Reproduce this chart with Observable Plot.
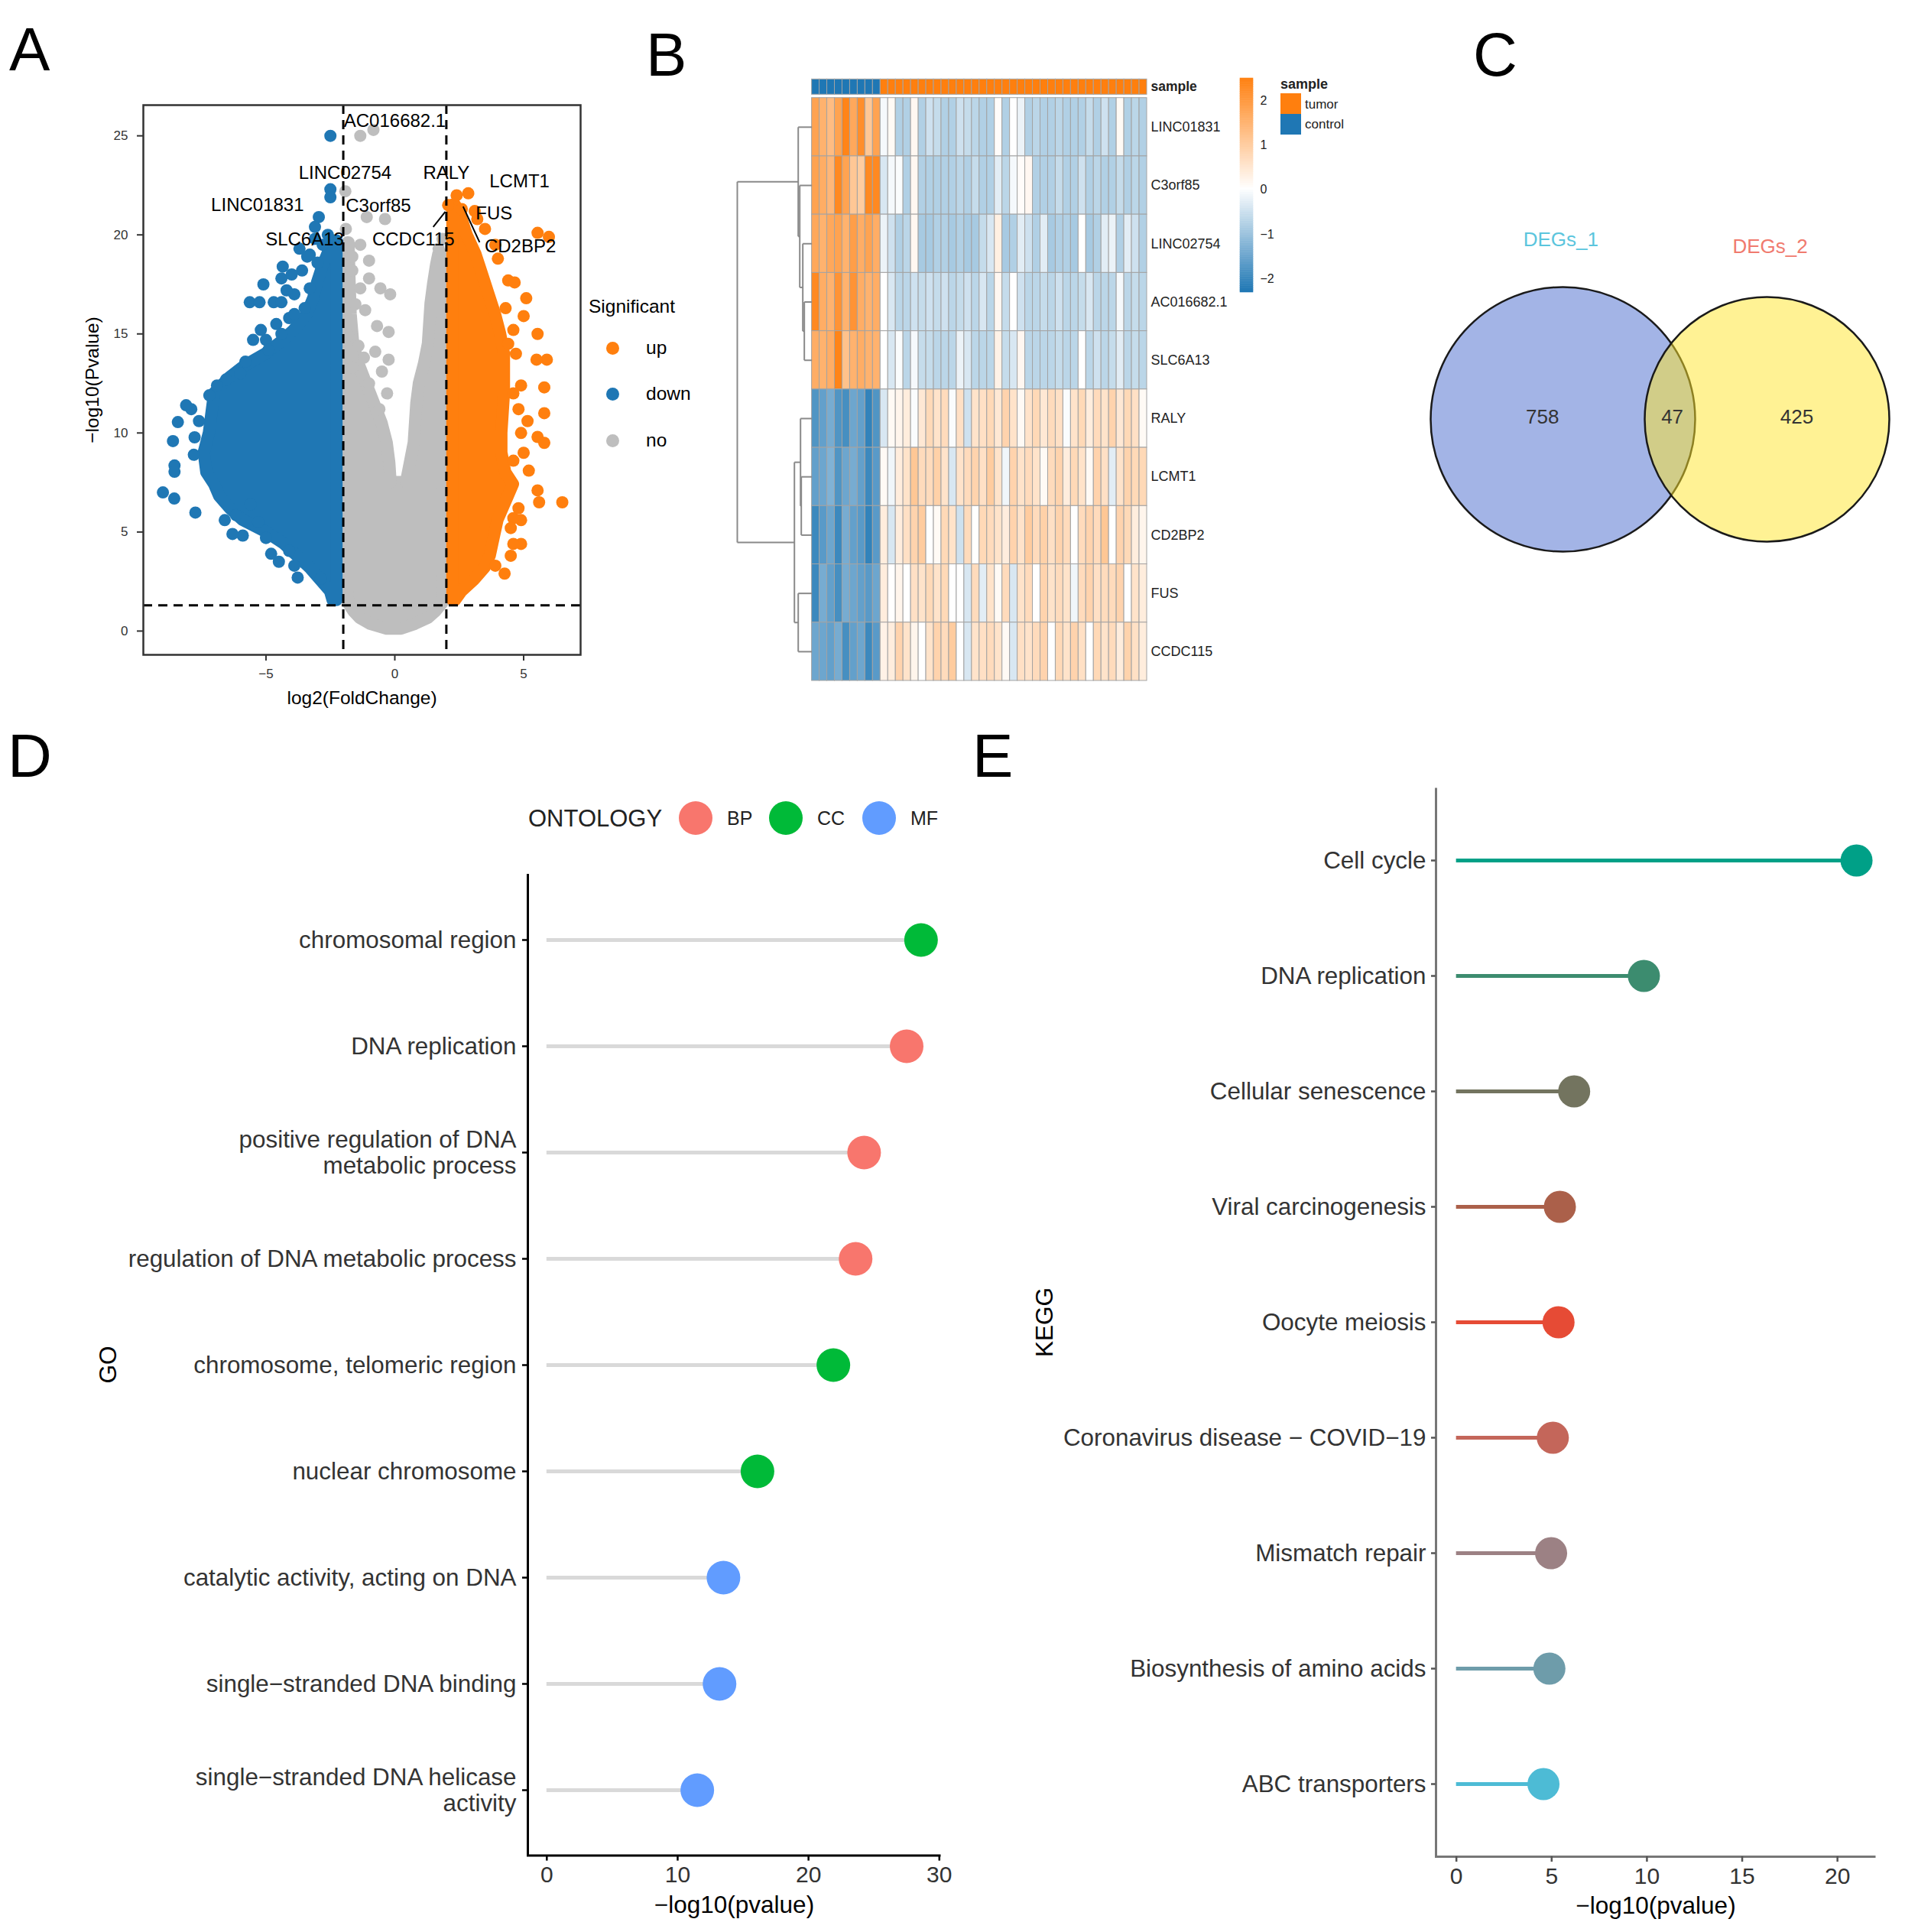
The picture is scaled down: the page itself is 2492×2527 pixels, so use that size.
<!DOCTYPE html>
<html><head><meta charset="utf-8">
<script src="https://cdn.jsdelivr.net/npm/d3@7"></script>
<script src="https://cdn.jsdelivr.net/npm/@observablehq/plot@0.6"></script>
<style>
html,body{margin:0;padding:0;background:#fff;}
#root{position:relative;width:2492px;height:2527px;overflow:hidden;background:#fff;}
</style></head><body><div id="root"></div>
<script>
// ===================== DATA =====================
// --- Panel A: volcano ---
const fcCut = 2, pCut = 1.301;
// dense cores of each group (y, left/right edge of dot centres)
const greyBaseY  = [0.1, 0.35, 0.65, 1.0, 1.4, 2.0, 3.0, 5.0, 7.5];
const greyBaseX1 = [-0.3, -0.95, -1.35, -1.6, -1.8, -1.82, -1.82, -1.82, -1.82];
const greyBaseX2 = [0.25, 0.8, 1.3, 1.6, 1.85, 1.88, 1.85, 1.85, 1.85];
const greyLeftY  = [7.5, 8.5, 9.5, 10.5, 11.5, 12.5, 13.5, 14.5, 16, 18, 19.6];
const greyLeftX2 = [-0.15, -0.2, -0.3, -0.5, -0.8, -1.1, -1.4, -1.6, -1.7, -1.75, -1.78];
const greyRightY  = [7.5, 8.5, 9.5, 10.5, 11.5, 12.5, 13.5, 14.5, 15.5, 16.5, 17.5, 18.5, 19.0];
const greyRightX1 = [0.45, 0.6, 0.75, 0.8, 0.85, 0.95, 1.15, 1.3, 1.35, 1.4, 1.5, 1.62, 1.7];
const downCoreY  = [1.55, 2.0, 2.6, 3.2, 3.8, 4.4, 5.0, 5.6, 6.2, 6.8, 7.4, 8.0, 9.0, 10.0, 11.0, 12.0, 12.8, 13.4, 14.0, 14.6, 15.2, 16.0, 16.8, 17.6, 18.4, 19.2, 19.7];
const downCoreX1 = [-2.4, -2.5, -2.9, -3.3, -3.8, -4.3, -5.0, -5.9, -6.4, -6.8, -7.0, -7.3, -7.4, -7.2, -7.1, -7.0, -6.4, -5.8, -5.0, -4.4, -3.9, -3.4, -3.15, -3.0, -2.8, -2.55, -2.35];
const upCoreY  = [1.55, 2.0, 2.6, 3.2, 3.8, 4.4, 5.0, 5.6, 6.2, 6.8, 7.4, 8.0, 9.0, 10.0, 11.0, 12.0, 13.0, 14.0, 15.0, 16.0, 17.0, 18.0, 19.0, 20.0, 21.0, 21.5];
const upCoreX2 = [2.35, 2.6, 3.1, 3.5, 3.7, 3.8, 3.9, 4.0, 4.2, 4.4, 4.6, 4.3, 4.15, 4.15, 4.2, 4.25, 4.25, 4.25, 4.1, 3.9, 3.65, 3.4, 3.15, 2.8, 2.55, 2.35];
// individual scattered genes [log2FC, -log10 p]
const downPoints = [[-2.5,25.0],[-2.5,22.3],[-2.5,21.9],[-2.95,20.9],[-3.1,20.4],[-2.6,20.0],[-4.35,18.4],[-4.4,17.8],[-5.1,17.5],[-5.63,16.6],[-5.25,16.6],[-4.7,16.6],[-4.4,16.6],[-4.6,15.5],[-4.1,15.8],[-5.5,14.7],[-5.0,14.7],[-6.55,12.7],[-6.0,13.0],[-7.2,11.9],[-8.42,10.55],[-8.61,9.59],[-7.77,9.78],[-8.55,8.36],[-8.55,8.04],[-9.0,7.0],[-8.56,6.69],[-7.74,5.98],[-7.6,10.6],[-6.6,5.6],[-6.16,5.85],[-5.9,4.82],[-5.0,4.7],[-4.1,4.05],[-3.77,2.7],[-2.87,2.64],[-5.6,6.4],[-7.9,11.2],[-5.3,5.5],[-4.8,3.9],[-3.9,3.3],[-6.9,12.4],[-5.8,13.6],[-5.2,15.2],[-3.9,17.0],[-3.3,19.0],[-3.6,18.2],[-4.0,18.0],[-3.7,19.3],[-7.8,8.9],[-8.1,11.4],[-6.3,4.9],[-4.5,3.5],[-3.5,16.3],[-3.9,16.0],[-3.3,17.3],[-3.0,18.6],[-3.4,18.9],[-2.8,19.5],[-3.1,19.8],[-4.2,17.2],[-4.9,14.2],[-4.4,15.0]];
const noPoints = [[-1.34,25.0],[-0.83,25.3],[-1.92,22.2],[-1.09,20.9],[-0.38,20.8],[-1.34,19.5],[-1.9,20.3],[-1.65,18.9],[-1.0,18.7],[-1.65,18.2],[-1.0,17.8],[-1.34,17.3],[-0.56,17.3],[-0.18,17.0],[-1.53,16.5],[-1.15,16.2],[-0.69,15.4],[-0.24,15.1],[-1.8,14.9],[-1.41,14.4],[-0.76,14.1],[-0.24,13.7],[-1.65,13.3],[-0.5,13.1],[-0.3,12.0],[-1.0,12.5],[-0.6,11.2],[-1.2,13.8],[1.7,19.3],[1.85,19.8]];
const upPoints = [[2.07,21.5],[2.4,22.0],[2.85,22.1],[2.6,21.3],[3.1,21.2],[5.54,20.1],[5.98,19.9],[4.0,18.8],[4.4,17.7],[4.65,17.6],[5.1,16.8],[5.0,15.9],[5.54,15.0],[5.9,13.7],[5.5,13.7],[5.8,12.3],[4.9,12.4],[5.8,11.0],[5.15,10.6],[5.54,9.8],[5.8,9.5],[5.2,8.1],[5.54,7.1],[5.6,6.5],[6.5,6.5],[4.9,5.6],[4.6,5.7],[4.9,4.4],[4.6,4.4],[4.5,3.8],[4.26,2.9],[4.4,14.5],[4.7,14.0],[4.6,12.0],[4.8,11.2],[5.0,9.0],[4.6,8.6],[4.8,6.2],[4.5,5.2],[3.9,19.5],[3.5,20.3],[3.2,20.8],[4.3,16.3],[4.6,15.2],[4.9,10.0],[3.9,3.3]];
const labelGenes = ["AC016682.1","LINC02754","LINC01831","C3orf85","SLC6A13","CCDC115","RALY","LCMT1","FUS","CD2BP2"];
const labelFC    = [0.0, -1.93, -5.33, -0.64, -3.5, 0.72, 2.0, 4.84, 3.85, 4.87];
const labelP     = [25.74, 23.13, 21.49, 21.45, 19.78, 19.78, 23.13, 22.7, 21.07, 19.43];
const repelSegments = [[1.49,20.4,1.96,21.17],[2.65,21.43,3.29,19.63]];

// --- Panel B: heatmap ---
const heatGenes = ["LINC01831","C3orf85","LINC02754","AC016682.1","SLC6A13","RALY","LCMT1","CD2BP2","FUS","CCDC115"];
const nControl = 9, nTumor = 35;
const controlValues = [
  [1.8,1.5,1.3,1.8,2.4,1.7,2.2,1.1,1.8],
  [1.8,1.6,1.4,2.3,1.8,1.1,1.0,2.3,2.3],
  [1.7,1.5,1.7,1.8,1.5,1.9,1.6,1.8,1.6],
  [2.3,1.6,1.5,2.1,1.5,2.1,1.6,1.5,1.6],
  [1.6,1.5,1.6,2.4,1.2,1.5,1.6,1.5,1.5],
  [-1.8,-1.6,-1.4,-1.8,-1.9,-1.5,-1.6,-2.1,-1.8],
  [-1.6,-1.5,-1.3,-1.8,-1.5,-1.4,-1.6,-2.0,-1.7],
  [-2.0,-1.7,-1.5,-2.0,-1.4,-1.6,-1.7,-2.1,-1.7],
  [-2.0,-1.4,-1.6,-1.9,-1.4,-1.5,-1.6,-1.7,-1.5],
  [-1.5,-1.5,-1.6,-1.4,-1.9,-1.6,-1.5,-2.0,-1.7]
];
const tumorValues = [
  [-0.1,0.1,-0.8,-0.8,0.15,-0.8,-0.5, -0.6,-0.8,-0.8,-0.5,-0.6,-0.7,-0.8, -0.8,0.05,-0.8,0.0,-0.2,-0.8,-0.7, -0.8,-0.8,-0.7,-0.8,-0.8,-0.8,-0.6, -0.8,-0.5,-0.8,0.1,-0.8,-0.7,-0.8],
  [-0.4,-0.1,-0.05,-0.8,0.15,-0.8,-0.8, -0.8,-0.8,-0.8,-0.7,-0.8,-0.6,-0.8, -0.8,-0.3,-0.7,-0.1,0.05,0.15,-0.8, -0.8,-0.8,-0.6,-0.8,-0.8,-0.5,-0.8, -0.7,-0.8,-0.8,-0.6,-0.8,-0.7,-0.8],
  [-0.2,-0.5,-0.8,-0.7,0.15,-0.9,-0.9, -0.8,-0.8,-0.9,-0.8,-0.9,-0.9,-0.6, -0.4,0.3,-0.9,-0.8,-0.3,-0.5,-0.8, -0.3,-0.9,-0.8,-0.8,-0.9,0.0,-0.9, -0.8,-0.3,-0.2,-0.8,-0.3,-0.5,-0.8],
  [0.0,-0.4,-0.7,-0.7,-0.5,-0.6,-0.5, -0.6,-0.5,-0.7,-0.6,-0.5,-0.7,-0.4, -0.7,0.15,-0.6,0.0,-0.5,-0.7,-0.7, -0.6,-0.7,-0.5,-0.7,-0.7,-0.6,-0.4, -0.7,-0.7,-0.7,-0.1,-0.7,-0.6,-0.7],
  [0.0,-0.4,-0.05,-0.7,-0.1,-0.6,-0.6, -0.7,-0.7,-0.7,-0.2,-0.4,-0.7,-0.7, -0.7,0.25,-0.6,-0.4,0.15,-0.7,-0.7, -0.7,-0.7,-0.6,-0.7,-0.7,0.0,-0.7, -0.5,-0.7,-0.6,-0.3,-0.7,-0.6,-0.7],
  [-0.4,0.1,0.2,0.35,-0.05,0.45,0.75, 0.55,0.7,-0.05,0.6,-0.5,0.55,0.6, 0.75,0.45,0.85,0.55,0.1,0.55,0.75, 0.45,0.7,0.6,-0.05,0.55,0.75,0.35, 0.7,0.55,0.85,0.45,0.75,0.6,0.1],
  [0.1,-0.15,0.35,0.55,1.1,0.7,0.7, 0.9,0.55,-0.4,0.55,0.7,0.85,0.6, 1.0,0.55,-0.15,0.85,0.55,0.7,0.55, 0.1,0.7,0.85,0.35,0.75,0.55,0.1, 0.85,0.6,-0.3,0.55,0.85,0.75,0.75],
  [0.35,-0.4,0.35,0.6,0.85,1.0,0.0, 0.1,0.75,0.55,-0.5,0.7,0.0,0.75, 0.7,0.55,0.35,0.85,0.55,1.0,0.7, 0.9,0.6,0.85,0.7,0.0,0.7,0.85, 0.7,1.1,0.0,0.85,0.75,0.35,0.2],
  [0.35,0.0,0.2,0.0,0.6,0.55,0.75, 0.55,0.75,0.0,0.0,-0.4,0.7,-0.3, 0.55,0.1,0.7,-0.4,0.55,0.7,0.0, 0.85,0.55,0.7,0.55,-0.15,0.7,0.85, 0.6,0.7,0.7,0.85,0.0,0.55,0.35],
  [0.25,0.35,0.85,0.55,0.2,0.0,0.55, 0.85,0.7,1.0,0.0,-0.4,0.55,0.6, 0.7,0.55,0.1,-0.4,0.6,0.55,0.7, 0.85,0.0,0.75,0.55,0.85,0.6,0.0, 0.75,0.55,0.7,0.35,0.85,0.6,0.35]
];
// row dendrogram (hclust-style merges; negative = leaf row)
const dendroMerges  = [[-4,-5],[-3,1],[-2,2],[-1,3],[-7,-8],[-6,5],[-9,-10],[6,7],[4,8]];
const dendroHeights = [1.0, 1.2, 1.6, 1.8, 1.4, 1.5, 1.8, 2.3, 9.8];
const heatLegendTicks = [-2,-1,0,1,2];

// --- Panel C: Venn ---
const vennSets = ["DEGs_1","DEGs_2"];
const vennCounts = [758, 47, 425];

// --- Panel D: GO ---
const goTerms = ["chromosomal region","DNA replication","positive regulation of DNA metabolic process","regulation of DNA metabolic process","chromosome, telomeric region","nuclear chromosome","catalytic activity, acting on DNA","single\u2212stranded DNA binding","single\u2212stranded DNA helicase activity"];
const goValues = [28.6, 27.5, 24.25, 23.6, 21.9, 16.1, 13.5, 13.2, 11.5];
const goOntology = ["CC","BP","BP","BP","CC","CC","MF","MF","MF"];
const ontologies = ["BP","CC","MF"];
const ontologyColors = ["#F8766D","#00BA38","#619CFF"];

// --- Panel E: KEGG ---
const keggTerms = ["Cell cycle","DNA replication","Cellular senescence","Viral carcinogenesis","Oocyte meiosis","Coronavirus disease \u2212 COVID\u221219","Mismatch repair","Biosynthesis of amino acids","ABC transporters"];
const keggValues = [21.0, 9.84, 6.18, 5.43, 5.36, 5.06, 4.97, 4.88, 4.57];
const keggColors = ["#00A087","#3C8C6F","#73745F","#AB604A","#E64B35","#C4665A","#9C8184","#6E9CAA","#4DBBD5"];

// ===================== HELPERS =====================
const FONT = '"Liberation Sans", Arial, Helvetica, sans-serif';
const root = document.getElementById("root");
function mount(svg, left, top, w, h) {
  const wrap = document.createElement("div");
  Object.assign(wrap.style, {position:"absolute", left:left+"px", top:top+"px", width:w+"px", height:h+"px"});
  svg.style.maxWidth = "none";
  svg.style.overflow = "visible";
  wrap.appendChild(svg);
  root.appendChild(wrap);
}
function label(str, x, y, o = {}) {
  const d = document.createElement("div");
  d.textContent = str;
  const tx = o.anchor === "middle" ? "-50%" : o.anchor === "end" ? "-100%" : "0";
  Object.assign(d.style, {position:"absolute", left:x+"px", top:y+"px", fontSize:(o.size||22)+"px", lineHeight:"1",
    whiteSpace:"pre", color:o.color||"#000", fontWeight:o.weight||"normal", fontFamily:FONT,
    transform:`translate(${tx},-50%)`});
  root.appendChild(d);
}
function swatch(x, y, w, h, color, round) {
  const d = document.createElement("div");
  Object.assign(d.style, {position:"absolute", left:(x - (round ? w/2 : 0))+"px", top:(y - (round ? h/2 : 0))+"px",
    width:w+"px", height:h+"px", background:color, borderRadius: round ? "50%" : "0"});
  root.appendChild(d);
}
const baseStyle = (size) => ({fontFamily: FONT, fontSize: size + "px", color: "#222", background: "transparent"});

// ===================== PANEL A =====================
const GREY = "#BEBEBE", BLUE = "#1F77B4", ORANGE = "#FF7F0E";
const greyCore = [
  ...greyBaseY.map((y,i) => ({part:"base", y, x1:greyBaseX1[i], x2:greyBaseX2[i]})),
  ...greyLeftY.map((y,i) => ({part:"left", y, x1:-1.82, x2:greyLeftX2[i]})),
  ...greyRightY.map((y,i) => ({part:"right", y, x1:greyRightX1[i], x2:1.85}))
];
const downCore = downCoreY.map((y,i) => ({y, x1:downCoreX1[i], x2:-2.25}));
const upCore = upCoreY.map((y,i) => ({y, x1:2.25, x2:upCoreX2[i]}));
const toPts = arr => arr.map(([x,y]) => ({x,y}));
const geneLabels = labelGenes.map((g,i) => ({g, x:labelFC[i], y:labelP[i]}));
const segs = repelSegments.map(([x1,y1,x2,y2]) => ({x1,y1,x2,y2}));
const coreOpts = c => ({y:"y", x1:"x1", x2:"x2", fill:c, stroke:c, strokeWidth:16, strokeLinejoin:"round"});

const volcano = Plot.plot({
  width: 900, height: 960,
  marginLeft: 187, marginRight: 141, marginTop: 137, marginBottom: 104,
  x: {domain: [-9.76, 7.21]},
  y: {domain: [-1.2, 26.55]},
  style: {...baseStyle(17), color:"#333"},
  marks: [
    Plot.areaX(greyCore, {...coreOpts(GREY), z:"part"}),
    Plot.dot(toPts(noPoints), {x:"x", y:"y", r:8, fill:GREY}),
    Plot.areaX(downCore, coreOpts(BLUE)),
    Plot.dot(toPts(downPoints), {x:"x", y:"y", r:8, fill:BLUE}),
    Plot.areaX(upCore, coreOpts(ORANGE)),
    Plot.dot(toPts(upPoints), {x:"x", y:"y", r:8, fill:ORANGE}),
    Plot.ruleX([-fcCut, fcCut], {stroke:"#000", strokeWidth:3, strokeDasharray:"12,8"}),
    Plot.ruleY([pCut], {stroke:"#000", strokeWidth:3, strokeDasharray:"12,8"}),
    Plot.link(segs, {x1:"x1", y1:"y1", x2:"x2", y2:"y2", stroke:"#000", strokeWidth:2}),
    Plot.text(geneLabels, {x:"x", y:"y", text:"g", fontSize:24, fill:"#000"}),
    Plot.frame({stroke:"#333", strokeWidth:2.5}),
    Plot.axisX({ticks:[-5,0,5], tickSize:8, tickPadding:10, label:null, fontSize:17, strokeWidth:2}),
    Plot.axisY({ticks:[0,5,10,15,20,25], tickSize:8, tickPadding:12, label:null, fontSize:17, strokeWidth:2}),
    Plot.text(["log2(FoldChange)"], {frameAnchor:"bottom", dy:57, lineAnchor:"middle", textAnchor:"middle", fontSize:24.5, fill:"#000"}),
    Plot.text(["\u2212log10(Pvalue)"], {frameAnchor:"left", dx:-66, rotate:-90, textAnchor:"middle", fontSize:24.5, fill:"#000"})
  ]
});
mount(volcano, 0, 0, 900, 960);
// legend
label("Significant", 770, 401, {size:24.5});
[["up",ORANGE,455],["down",BLUE,515],["no",GREY,576]].forEach(([t,c,y]) => {
  swatch(801, y, 17, 17, c, true);
  label(t, 845, y, {size:24.5});
});

// ===================== PANEL B =====================
const HCOLOR = {type:"linear", domain:[-2.3,0,2.5], range:[BLUE,"#ffffff",ORANGE]};
const cells = [];
heatGenes.forEach((g,r) => {
  controlValues[r].forEach((v,c) => cells.push({r, c, v}));
  tumorValues[r].forEach((v,c) => cells.push({r, c:c+nControl, v}));
});
const sampleCols = d3.range(nControl + nTumor).map(c => ({c, group: c < nControl ? "control" : "tumor"}));
const nodeY = [], nodeH = [], dendro = [];
dendroMerges.forEach(([a,b],k) => {
  const h = dendroHeights[k];
  const ch = [a,b].map(n => n < 0 ? {y:-n-1+0.5, h:0} : {y:nodeY[n-1], h:nodeH[n-1]});
  ch.forEach(c => dendro.push({x1:-c.h, y1:c.y, x2:-h, y2:c.y}));
  dendro.push({x1:-h, y1:ch[0].y, x2:-h, y2:ch[1].y});
  nodeY[k] = (ch[0].y + ch[1].y)/2; nodeH[k] = h;
});
const heat = Plot.plot({
  width: 900, height: 830,
  x: {domain:[-10,44], range:[62,600], axis:null},
  y: {domain:[0,10], range:[47.7,810], axis:null},
  color: HCOLOR,
  style: baseStyle(18),
  marks: [
    Plot.rect(cells, {x1:"c", x2:d=>d.c+1, y1:"r", y2:d=>d.r+1, fill:"v", stroke:"#a3a3a3", strokeWidth:1}),
    Plot.rect(sampleCols.filter(d=>d.group==="control"), {x1:"c", x2:d=>d.c+1, y1:-0.32, y2:-0.058, fill:BLUE, stroke:"#a3a3a3", strokeWidth:1}),
    Plot.rect(sampleCols.filter(d=>d.group==="tumor"), {x1:"c", x2:d=>d.c+1, y1:-0.32, y2:-0.058, fill:ORANGE, stroke:"#a3a3a3", strokeWidth:1}),
    Plot.link(dendro, {x1:"x1", y1:"y1", x2:"x2", y2:"y2", stroke:"#8a8a8a", strokeWidth:2}),
    Plot.text(heatGenes, {x:44, y:(d,i)=>i+0.5, dx:5, textAnchor:"start", fontSize:18, fill:"#222"}),
    Plot.text(["sample"], {x:44, y:-0.19, dx:5, textAnchor:"start", fontSize:17.5, fontWeight:"bold", fill:"#222"})
  ]
});
mount(heat, 900, 80, 900, 830);
const rampVals = d3.range(-2.3, 2.5, 0.05);
const cbar = Plot.plot({
  width: 90, height: 300,
  x: {domain:[0,1], range:[12,29], axis:null},
  y: {domain:[-2.3,2.5], range:[287,7], axis:null},
  color: HCOLOR,
  style: baseStyle(16),
  marks: [
    Plot.rect(rampVals, {x1:0, x2:1, y1:d=>d, y2:d=>d+0.05, fill:d=>d, stroke:d=>d, strokeWidth:0.6}),
    Plot.text(heatLegendTicks, {x:1, y:d=>d, dx:9, textAnchor:"start", text:d => d < 0 ? "\u2212" + Math.abs(d) : String(d), fontSize:16, fill:"#222"})
  ]
});
mount(cbar, 1610, 95, 90, 300);
label("sample", 1675, 110, {size:18, weight:"bold", color:"#222"});
swatch(1675, 122, 27, 27, ORANGE);
swatch(1675, 149, 27, 27, BLUE);
label("tumor", 1707, 136, {size:17, color:"#222"});
label("control", 1707, 162, {size:17, color:"#222"});

// ===================== PANEL C =====================
const vennCircles = [{x:0, y:0}, {x:1, y:0}];
const vennRegionPos = [{x:-0.1, y:0.01}, {x:0.536, y:0.01}, {x:1.146, y:0.01}];
const vennLabelPos = [{x:-0.01, y:0.88}, {x:1.015, y:0.846}];
const venn = Plot.plot({
  width: 654, height: 500,
  x: {domain:[0,1], range:[206,473], axis:null},
  y: {domain:[0,1], range:[298,31], axis:null},
  style: baseStyle(26),
  marks: [
    Plot.dot([vennCircles[0]], {x:"x", y:"y", r:173, fill:"#4769CD", fillOpacity:0.5, stroke:"#1a1a1a", strokeWidth:2.5}),
    Plot.dot([vennCircles[1]], {x:"x", y:"y", r:160, fill:"#FFE529", fillOpacity:0.5, stroke:"#1a1a1a", strokeWidth:2.5}),
    Plot.text(vennCounts, {x:(d,i)=>vennRegionPos[i].x, y:(d,i)=>vennRegionPos[i].y, text:d=>String(d), fontSize:26, fill:"#333"}),
    Plot.text([vennSets[0]], {x:vennLabelPos[0].x, y:vennLabelPos[0].y, fontSize:26, fill:"#5BC5DD"}),
    Plot.text([vennSets[1]], {x:vennLabelPos[1].x, y:vennLabelPos[1].y, fontSize:26, fill:"#F07A6E"})
  ]
});
mount(venn, 1838, 250, 654, 500);

// ===================== PANEL D =====================
function wrap35(s) {
  const words = s.split(" "), lines = []; let cur = "";
  for (const w of words) { if (cur && (cur + " " + w).length > 35) { lines.push(cur); cur = w; } else cur = cur ? cur + " " + w : w; }
  lines.push(cur); return lines.join("\n");
}
const go = goTerms.map((t,i) => ({term:t, value:goValues[i], ontology:goOntology[i]}));
const dW = 1260 - 690 - 30, dH = 1427 - 42.5 - 100.4;
const goPlot = Plot.plot({
  width: 1260, height: 1427,
  marginLeft: 690, marginRight: 30, marginTop: 42.5, marginBottom: 100.4,
  x: {domain:[-1.45, 30.1]},
  y: {type:"point", domain:goTerms, padding:0.6},
  color: {domain:ontologies, range:ontologyColors},
  style: baseStyle(31),
  marks: [
    Plot.ruleY(go, {y:"term", x1:0, x2:"value", stroke:"#D9D9D9", strokeWidth:5}),
    Plot.dot(go, {x:"value", y:"term", fill:"ontology", r:22}),
    Plot.frame({stroke:"#000", strokeWidth:3, strokeDasharray:`0,${dW+dH},${dW+dH}`}),
    Plot.axisX({ticks:[0,10,20,30], tickSize:7, tickPadding:7, label:null, fontSize:30, strokeWidth:2.5, stroke:"#000", fill:"#333"}),
    Plot.axisY({tickSize:7, tickPadding:8, label:null, fontSize:31.4, lineHeight:1.07, tickFormat:wrap35, strokeWidth:2.5, stroke:"#000", fill:"#333"}),
    Plot.text(["\u2212log10(pvalue)"], {frameAnchor:"bottom", dy:64.5, lineAnchor:"middle", textAnchor:"middle", fontSize:31.5, fill:"#000"}),
    Plot.text(["GO"], {frameAnchor:"left", dx:-549, rotate:-90, textAnchor:"middle", fontSize:31.5, fill:"#000"})
  ]
});
mount(goPlot, 0, 1100, 1260, 1427);
label("ONTOLOGY", 691, 1070, {size:31, color:"#222"});
ontologies.forEach((o,i) => {
  const cx = [910, 1028, 1150][i];
  swatch(cx, 1070, 44, 44, ontologyColors[i], true);
  label(o, cx + 41, 1070, {size:25, color:"#222"});
});

// ===================== PANEL E =====================
const kegg = keggTerms.map((t,i) => ({term:t, value:keggValues[i]}));
const eW = 1232 - 618 - 39, eH = 1527 - 30 - 99;
const keggPlot = Plot.plot({
  width: 1232, height: 1527,
  marginLeft: 618, marginRight: 39, marginTop: 30, marginBottom: 99,
  x: {domain:[-1.07, 22.0]},
  y: {type:"point", domain:keggTerms, padding:0.6},
  color: {domain:keggTerms, range:keggColors},
  style: baseStyle(31),
  marks: [
    Plot.ruleY(kegg, {y:"term", x1:0, x2:"value", stroke:"term", strokeWidth:5}),
    Plot.dot(kegg, {x:"value", y:"term", fill:"term", r:21}),
    Plot.frame({stroke:"#777", strokeWidth:3, strokeDasharray:`0,${eW+eH},${eW+eH}`}),
    Plot.axisX({ticks:[0,5,10,15,20], tickSize:7, tickPadding:7, label:null, fontSize:30, strokeWidth:2.5, stroke:"#555", fill:"#333"}),
    Plot.axisY({tickSize:6, tickPadding:7, label:null, fontSize:31.4, strokeWidth:2.5, stroke:"#555", fill:"#333"}),
    Plot.text(["\u2212log10(pvalue)"], {frameAnchor:"bottom", dy:64, lineAnchor:"middle", textAnchor:"middle", fontSize:31.5, fill:"#000"}),
    Plot.text(["KEGG"], {frameAnchor:"left", dx:-512, rotate:-90, textAnchor:"middle", fontSize:31.5, fill:"#000"})
  ]
});
mount(keggPlot, 1260, 1000, 1232, 1527);

// ===================== PANEL LETTERS =====================
label("A", 12, 64.5, {size:80});
label("B", 845, 72, {size:80});
label("C", 1927, 72, {size:80});
label("D", 10, 989, {size:80});
label("E", 1272, 989, {size:80});
</script></body></html>
